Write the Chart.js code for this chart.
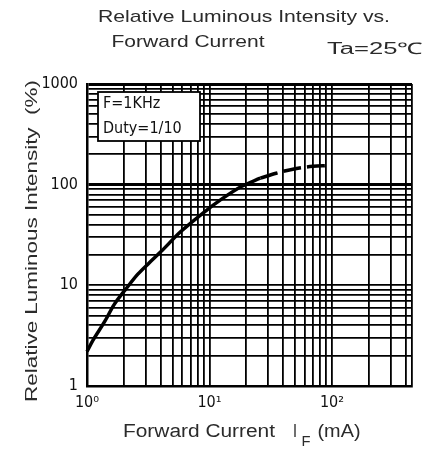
<!DOCTYPE html>
<html>
<head>
<meta charset="utf-8">
<script src="https://cdn.jsdelivr.net/npm/chart.js@4.4.1/dist/chart.umd.min.js"></script>
<style>
  html, body { margin: 0; padding: 0; background: #fff; }
  canvas { display: block; }
</style>
</head>
<body>
<canvas id="lumChart" width="426" height="450"></canvas>
<script>
// Forward current (mA) vs relative luminous intensity (%)
const SOLID_CURRENT = [1, 1.12, 1.4, 1.66, 2.05, 2.6, 3.2, 4, 5.8, 8.8, 12.8, 18.2, 26];
const SOLID_INTENSITY = [2.2, 2.85, 4.4, 6.4, 9.0, 12.9, 16.6, 21.5, 34, 52, 73, 96, 116];
const DASH_CURRENT = [26, 35, 50, 70, 92];
const DASH_INTENSITY = [116, 130, 144, 152, 155];

// grid lines of the log paper
const X_GRID = [1, 2, 3, 4, 5, 6, 7, 8, 9, 10, 20, 30, 40, 50, 60, 70, 80, 90, 100, 200, 300, 400, 450];
const Y_GRID = [1, 2, 3, 4, 5, 6, 7, 8, 9, 10, 20, 30, 40, 50, 60, 70, 80, 90,
                100, 200, 300, 400, 500, 600, 700, 800, 900, 1000];

const X_TICK_VALUES = [1, 10, 100];
const X_TICK_LABELS = ['10⁰', '10¹', '10²'];
const Y_TICK_VALUES = [1, 10, 100, 1000];
const Y_TICK_LABELS = ['1', '10', '100', '1000'];

const TEXT_COLOR = '#2b2b2b';
const SANS = '"Liberation Sans", Arial, sans-serif';
const NARROW = '"Liberation Sans Narrow", "DejaVu Sans Condensed", sans-serif';

function toPoints(xs, ys) {
    return xs.map((x, i) => ({ x: x, y: ys[i] }));
}

// draw text centred on (cx, cy), stretched to the given width
function fitText(ctx, text, cx, cy, width, size, family) {
    ctx.font = size + 'px ' + family;
    const w = ctx.measureText(text).width;
    ctx.save();
    ctx.translate(cx, cy);
    ctx.scale(width / w, 1);
    ctx.textAlign = 'center';
    ctx.textBaseline = 'middle';
    ctx.fillText(text, 0, 0);
    ctx.restore();
}

const labelsPlugin = {
    id: 'sheetLabels',
    afterDraw(chart) {
        const ctx = chart.ctx;
        ctx.save();
        ctx.fillStyle = TEXT_COLOR;

        // titles
        fitText(ctx, 'Relative Luminous Intensity vs.', 244, 17, 292, 17, SANS);
        fitText(ctx, 'Forward Current', 188, 42, 153, 17, SANS);
        fitText(ctx, 'Ta=25℃', 375, 50, 96, 16, SANS);

        // y axis title
        ctx.save();
        ctx.translate(32, 241);
        ctx.rotate(-Math.PI / 2);
        fitText(ctx, 'Relative Luminous Intensity  (%)', 0, 0, 322, 17, SANS);
        ctx.restore();

        // x axis title with subscript
        fitText(ctx, 'Forward Current', 199, 432, 152, 18, SANS);
        fitText(ctx, 'I', 295, 432, 4, 18, SANS);
        fitText(ctx, 'F', 306, 442, 9, 15, SANS);
        fitText(ctx, '(mA)', 339, 432, 43, 18, SANS);

        // condition box
        ctx.fillStyle = '#fff';
        ctx.fillRect(98, 92, 102, 49);
        ctx.strokeStyle = '#000';
        ctx.lineWidth = 1.8;
        ctx.strokeRect(98, 92, 102, 49);
        ctx.fillStyle = '#111';
        ctx.font = '16px ' + NARROW;
        ctx.textAlign = 'left';
        ctx.textBaseline = 'middle';
        ctx.fillText('F=1KHz', 103, 104);
        ctx.fillText('Duty=1/10', 103, 129);
        ctx.restore();
    }
};

new Chart(document.getElementById('lumChart'), {
    type: 'line',
    data: {
        datasets: [
            {
                data: toPoints(SOLID_CURRENT, SOLID_INTENSITY),
                borderColor: '#000',
                borderWidth: 3.5,
                pointRadius: 0,
                cubicInterpolationMode: 'monotone',
                clip: false
            },
            {
                data: toPoints(DASH_CURRENT, DASH_INTENSITY),
                borderColor: '#000',
                borderWidth: 3.5,
                borderDash: [18, 6],
                pointRadius: 0,
                cubicInterpolationMode: 'monotone',
                clip: false
            }
        ]
    },
    options: {
        responsive: false,
        animation: false,
        layout: { padding: { top: 84, right: 14, left: 0, bottom: 0 } },
        plugins: {
            legend: { display: false },
            tooltip: { enabled: false }
        },
        scales: {
            x: {
                type: 'logarithmic',
                min: 1,
                max: 450,
                afterBuildTicks: (s) => { s.ticks = X_GRID.map(v => ({ value: v })); },
                afterFit: (s) => { s.height = 64; },
                ticks: {
                    autoSkip: false,
                    maxRotation: 0,
                    padding: 7,
                    color: '#111',
                    font: { size: 16, family: NARROW },
                    callback: (v) => {
                        const i = X_TICK_VALUES.indexOf(v);
                        return i >= 0 ? X_TICK_LABELS[i] : '';
                    }
                },
                grid: {
                    color: '#000',
                    lineWidth: 1.8,
                    drawTicks: false
                },
                border: { display: true, color: '#000', width: 2.5 }
            },
            y: {
                type: 'logarithmic',
                min: 1,
                max: 1000,
                afterBuildTicks: (s) => { s.ticks = Y_GRID.map(v => ({ value: v })); },
                afterFit: (s) => { s.width = 87; },
                ticks: {
                    autoSkip: false,
                    padding: 9,
                    color: '#111',
                    font: { size: 16, family: NARROW },
                    callback: (v) => {
                        const i = Y_TICK_VALUES.indexOf(v);
                        return i >= 0 ? Y_TICK_LABELS[i] : '';
                    }
                },
                grid: {
                    color: '#000',
                    lineWidth: (c) => (c.tick && (c.tick.value === 100 || c.tick.value === 1000)) ? 3 : 1.8,
                    drawTicks: false
                },
                border: { display: true, color: '#000', width: 2.5 }
            }
        }
    },
    plugins: [labelsPlugin]
});
</script>
</body>
</html>
